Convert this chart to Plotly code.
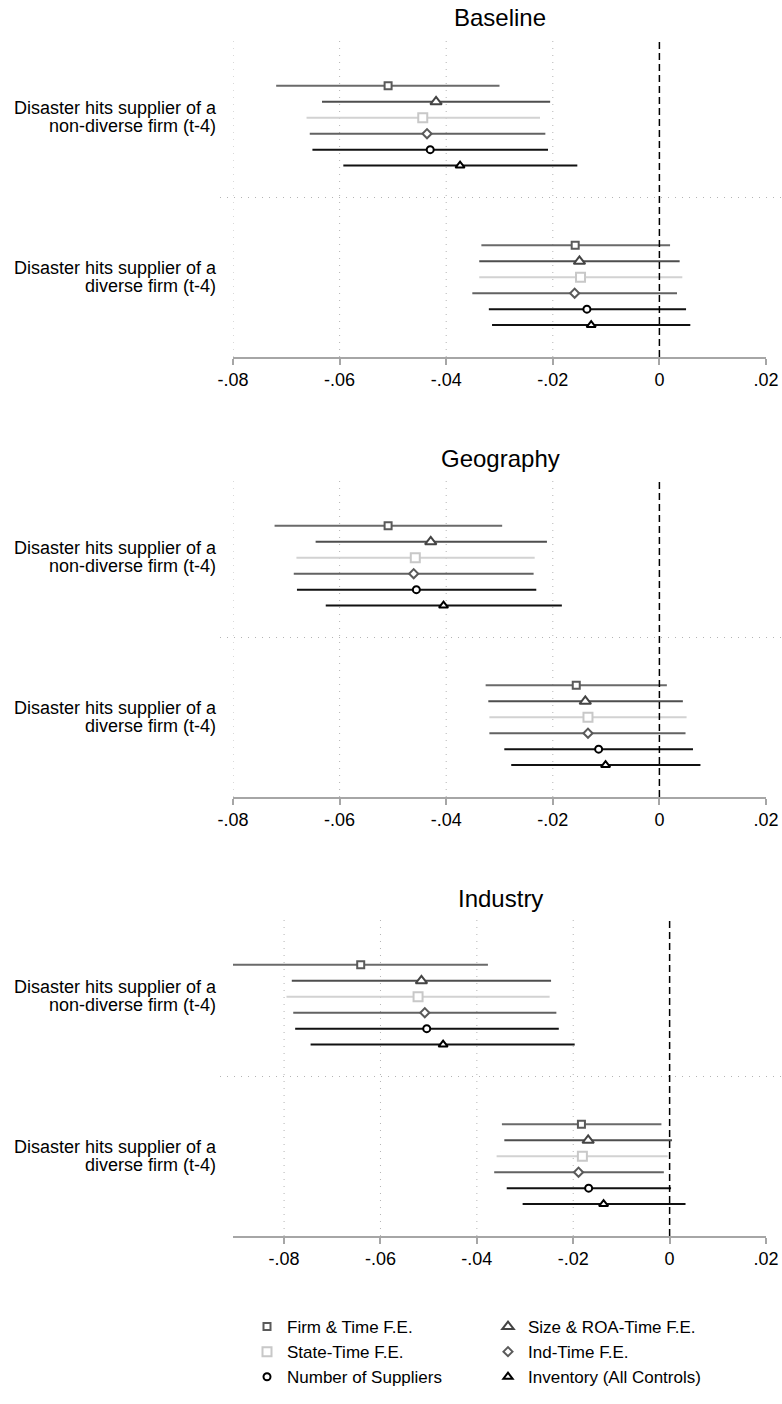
import plotly.graph_objects as go

# ---------------- data ----------------
series = ["Firm & Time F.E.", "Size & ROA-Time F.E.", "State-Time F.E.",
          "Ind-Time F.E.", "Number of Suppliers", "Inventory (All Controls)"]
panels = ["Baseline", "Geography", "Industry"]
group_labels = [["Disaster hits supplier of a", "non-diverse firm (t-4)"],
                ["Disaster hits supplier of a", "diverse firm (t-4)"]]
xtick_vals = [-0.08, -0.06, -0.04, -0.02, 0, 0.02]
xtick_text = ["-.08", "-.06", "-.04", "-.02", "0", ".02"]

# Baseline
base_nd_pt = [-0.0509, -0.0419, -0.0444, -0.0436, -0.0430, -0.0374]
base_nd_lo = [-0.0719, -0.0633, -0.0662, -0.0656, -0.0651, -0.0593]
base_nd_hi = [-0.0300, -0.0205, -0.0224, -0.0214, -0.0209, -0.0154]
base_d_pt = [-0.0158, -0.0150, -0.0148, -0.0159, -0.0136, -0.0128]
base_d_lo = [-0.0334, -0.0338, -0.0338, -0.0351, -0.0320, -0.0314]
base_d_hi = [0.0020, 0.0038, 0.0043, 0.0033, 0.0050, 0.0058]
# Geography
geo_nd_pt = [-0.0509, -0.0429, -0.0458, -0.0461, -0.0456, -0.0405]
geo_nd_lo = [-0.0722, -0.0645, -0.0681, -0.0686, -0.0680, -0.0626]
geo_nd_hi = [-0.0295, -0.0211, -0.0234, -0.0236, -0.0231, -0.0183]
geo_d_pt = [-0.0156, -0.0139, -0.0134, -0.0134, -0.0114, -0.0101]
geo_d_lo = [-0.0326, -0.0321, -0.0319, -0.0319, -0.0291, -0.0278]
geo_d_hi = [0.0014, 0.0044, 0.0051, 0.0049, 0.0063, 0.0077]
# Industry
ind_nd_pt = [-0.0641, -0.0515, -0.0522, -0.0508, -0.0504, -0.0470]
ind_nd_lo = [-0.0906, -0.0784, -0.0795, -0.0781, -0.0777, -0.0745]
ind_nd_hi = [-0.0377, -0.0246, -0.0249, -0.0235, -0.0230, -0.0197]
ind_d_pt = [-0.0183, -0.0169, -0.0181, -0.0189, -0.0168, -0.0137]
ind_d_lo = [-0.0348, -0.0343, -0.0359, -0.0364, -0.0338, -0.0305]
ind_d_hi = [-0.0017, 0.0005, -0.0004, -0.0012, 0.0003, 0.0033]

panel_data = [
    [(base_nd_pt, base_nd_lo, base_nd_hi), (base_d_pt, base_d_lo, base_d_hi)],
    [(geo_nd_pt, geo_nd_lo, geo_nd_hi), (geo_d_pt, geo_d_lo, geo_d_hi)],
    [(ind_nd_pt, ind_nd_lo, ind_nd_hi), (ind_d_pt, ind_d_lo, ind_d_hi)],
]

# ---------------- styles ----------------
FONT = "Liberation Sans, Arial, Helvetica, sans-serif"
line_colors = ["#6a6a6a", "#4e4e4e", "#d2d2d2", "#626262", "#111111", "#111111"]
mk_symbols = ["square", "triangle-up", "square", "diamond", "circle", "triangle-up"]
mk_sizes = [7, 10, 9, 7, 7, 8]
mk_lines = ["#5a5a5a", "#444444", "#c8c8c8", "#5a5a5a", "#000000", "#000000"]
legend_of = ["legend", "legend2", "legend", "legend2", "legend", "legend2"]

W, H = 782, 1404
ML = 233
MR = W - 766
PW = W - ML - MR
panel_top = [38, 478, 917]
panel_bot = [357, 797, 1236]
title_y = [18, 458, 898]

# row layout positions (y units)
group_start = [1, 11]
y_top, y_bot = -2, 18
sep_y = 8
label_offset = 1.13

fig = go.Figure()
shapes = []
annotations = []

for p, pname in enumerate(panels):
    ax = "" if p == 0 else str(p + 1)
    xref, yref = "x" + ax, "y" + ax
    for s in range(len(series)):
        lx, ly, px, py = [], [], [], []
        for g, (pt, lo, hi) in enumerate(panel_data[p]):
            yy = group_start[g] + s
            lx += [lo[s], hi[s], None]
            ly += [yy, yy, None]
            px.append(pt[s])
            py.append(yy)
        fig.add_trace(go.Scatter(x=lx, y=ly, mode="lines", xaxis=xref, yaxis=yref,
                                 line=dict(color=line_colors[s], width=2),
                                 showlegend=False, hoverinfo="skip"))
        fig.add_trace(go.Scatter(x=px, y=py, mode="markers", xaxis=xref, yaxis=yref,
                                 name=series[s], legend=legend_of[s],
                                 showlegend=(p == 0),
                                 marker=dict(symbol=mk_symbols[s], size=mk_sizes[s],
                                             color="white",
                                             line=dict(color=mk_lines[s], width=2))))
    # y tick labels (two lines per group)
    tv, tt = [], []
    for g in range(2):
        c = group_start[g] + 2.5
        tv += [c - label_offset, c]
        tt += group_labels[g]
    all_lo = [v for grp in panel_data[p] for v in grp[1]]
    xmin = min(min(all_lo), xtick_vals[0])
    xmax = xtick_vals[-1]
    dom = [1 - panel_bot[p] / H, 1 - panel_top[p] / H]
    fig.layout["xaxis" + ax] = dict(
        domain=[0, 1], anchor=yref, range=[xmin, xmax],
        tickvals=xtick_vals, ticktext=xtick_text, showgrid=False, zeroline=False,
        showline=True, linecolor="#a6a6a6", linewidth=1.5,
        ticks="outside", ticklen=6, tickwidth=1.5, tickcolor="#a6a6a6",
        tickfont=dict(family=FONT, size=18, color="black"))
    fig.layout["yaxis" + ax] = dict(
        domain=dom, anchor=xref, range=[y_bot, y_top],
        tickvals=tv, ticktext=tt, showgrid=False, zeroline=False, showline=False,
        ticks="", ticklabelstandoff=16,
        tickfont=dict(family=FONT, size=18, color="black"))
    # gridlines
    for v in xtick_vals[:-1]:
        if v == 0:
            continue
        shapes.append(dict(type="line", xref=xref, yref=yref + " domain",
                           x0=v, x1=v, y0=0, y1=1, layer="below",
                           line=dict(color="#b4b4b4", width=1, dash="1px,6px")))
    # separator between groups
    shapes.append(dict(type="line", xref="paper", yref=yref,
                       x0=(220 - ML) / PW, x1=(W - ML) / PW,
                       y0=sep_y, y1=sep_y, layer="below",
                       line=dict(color="#b4b4b4", width=1, dash="1px,6px")))
    # zero line
    shapes.append(dict(type="line", xref=xref, yref=yref + " domain",
                       x0=0, x1=0, y0=0, y1=1, layer="above",
                       line=dict(color="black", width=1.5, dash="7px,4px")))
    annotations.append(dict(text=pname, xref="paper", yref="paper",
                            x=(500 - ML) / PW,
                            y=1 - title_y[p] / H, xanchor="center", yanchor="middle",
                            showarrow=False, font=dict(family=FONT, size=24, color="black")))

leg_common = dict(yanchor="top", xanchor="left", bgcolor="rgba(0,0,0,0)",
                  font=dict(family=FONT, size=17, color="black"), borderwidth=0)
fig.update_layout(
    width=W, height=H,
    margin=dict(l=ML, r=MR, t=0, b=0, autoexpand=False),
    paper_bgcolor="white", plot_bgcolor="white",
    shapes=shapes, annotations=annotations,
    legend=dict(x=(247 - ML) / PW, y=1 - 1309 / H, **leg_common),
    legend2=dict(x=(488 - ML) / PW, y=1 - 1309 / H, **leg_common),
)

fig.write_html("out.html",
               config={"displayModeBar": False},
               post_script="document.body.style.margin='0';document.body.style.overflow='hidden';")
